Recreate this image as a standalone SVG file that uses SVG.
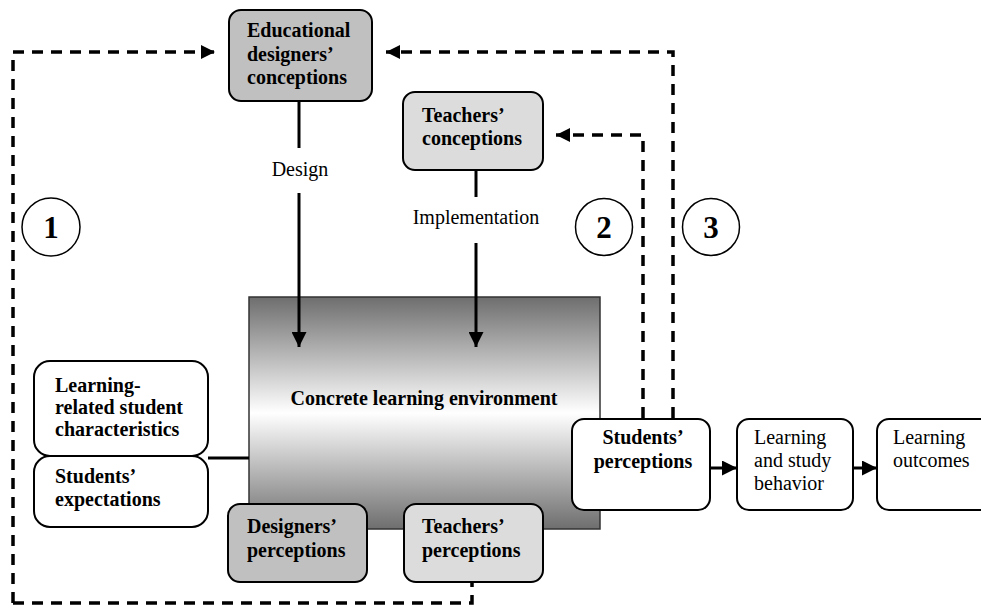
<svg xmlns="http://www.w3.org/2000/svg" width="981" height="612" viewBox="0 0 981 612">
<style>
.box{stroke:#000;stroke-width:2}
.b{font-family:"Liberation Serif","Times New Roman",serif;font-weight:bold;font-size:20px;fill:#000}
.r{font-family:"Liberation Serif","Times New Roman",serif;font-size:20px;fill:#000}
.num{font-family:"Liberation Serif","Times New Roman",serif;font-weight:bold;font-size:31px;fill:#000;text-anchor:middle}
.solid{fill:none;stroke:#000;stroke-width:3}
.dash{fill:none;stroke:#000;stroke-width:3.5;stroke-dasharray:11 8}
.circ{fill:#fff;stroke:#000;stroke-width:1.5}
</style>
<defs>
<marker id="ah" viewBox="0 0 10 10" refX="10" refY="5" markerWidth="5" markerHeight="5" markerUnits="strokeWidth" orient="auto">
<path d="M0,0 L10,5 L0,10 z" fill="#000"/>
</marker>
<marker id="ahd" viewBox="0 0 10 10" refX="10" refY="5" markerWidth="4" markerHeight="4" markerUnits="strokeWidth" orient="auto">
<path d="M0,0 L10,5 L0,10 z" fill="#000"/>
</marker>
<linearGradient id="g" x1="0" y1="0" x2="0" y2="1">
<stop offset="0" stop-color="#6e6e6e"/>
<stop offset="0.5" stop-color="#ffffff"/>
<stop offset="1" stop-color="#6e6e6e"/>
</linearGradient>
</defs>

<g id="concrete">
<rect x="249" y="297" width="351" height="232" fill="url(#g)" stroke="#333" stroke-width="1.5"/>
<text class="b" x="424" y="405" text-anchor="middle">Concrete learning environment</text>
</g>

<g id="connectors">
<path class="dash" d="M13,603 L13,52 L215,52" marker-end="url(#ahd)"/>
<path class="dash" d="M13,603 L472,603 L472,582"/>
<path class="dash" d="M673,418 L673,52 L386,52" marker-end="url(#ahd)"/>
<path class="dash" d="M643,418 L643,135 L556,135" marker-end="url(#ahd)"/>
<path class="solid" d="M299,101 L299,148"/>
<path class="solid" d="M299,193 L299,347" marker-end="url(#ah)"/>
<path class="solid" d="M476,170 L476,197"/>
<path class="solid" d="M476,243 L476,347" marker-end="url(#ah)"/>
<path class="solid" d="M208,458 L249,458"/>
<path class="solid" d="M710,468 L737,468" marker-end="url(#ah)"/>
<path class="solid" d="M853,468 L877,468" marker-end="url(#ah)"/>
</g>

<g id="design-label"><text class="r" x="300" y="176" text-anchor="middle">Design</text></g>
<g id="implementation-label"><text class="r" x="476" y="224" text-anchor="middle">Implementation</text></g>

<g id="circle1"><circle class="circ" cx="51" cy="227" r="29"/><text class="num" x="51" y="238">1</text></g>
<g id="circle2"><circle class="circ" cx="604" cy="227" r="28.5"/><text class="num" x="604" y="238">2</text></g>
<g id="circle3"><circle class="circ" cx="711" cy="227" r="28.5"/><text class="num" x="711" y="238">3</text></g>

<g id="edu-designers">
<rect class="box" x="229" y="10" width="143" height="91" rx="12" fill="#c0c0c0"/>
<text class="b" x="247" y="37">Educational</text>
<text class="b" x="247" y="61">designers’</text>
<text class="b" x="247" y="84">conceptions</text>
</g>

<g id="teachers-conceptions">
<rect class="box" x="403" y="92" width="140" height="78" rx="12" fill="#dcdcdc"/>
<text class="b" x="422" y="122">Teachers’</text>
<text class="b" x="422" y="145">conceptions</text>
</g>

<g id="student-characteristics">
<rect class="box" x="34" y="361" width="174" height="95" rx="16" fill="#fff"/>
<text class="b" x="55" y="392">Learning-</text>
<text class="b" x="55" y="414">related student</text>
<text class="b" x="55" y="436">characteristics</text>
</g>
<g id="students-expectations">
<rect class="box" x="34" y="456" width="174" height="71" rx="16" fill="#fff"/>
<text class="b" x="55" y="483">Students’</text>
<text class="b" x="55" y="506">expectations</text>
</g>

<g id="designers-perceptions">
<rect class="box" x="228" y="504" width="139" height="78" rx="12" fill="#c0c0c0"/>
<text class="b" x="247" y="533">Designers’</text>
<text class="b" x="247" y="557">perceptions</text>
</g>

<g id="teachers-perceptions">
<rect class="box" x="404" y="504" width="139" height="78" rx="12" fill="#dcdcdc"/>
<text class="b" x="422" y="533">Teachers’</text>
<text class="b" x="422" y="557">perceptions</text>
</g>

<g id="students-perceptions">
<rect class="box" x="572" y="419" width="138" height="91" rx="12" fill="#fff"/>
<text class="b" x="643" y="444" text-anchor="middle">Students’</text>
<text class="b" x="643" y="468" text-anchor="middle">perceptions</text>
</g>

<g id="learning-behavior">
<rect class="box" x="737" y="419" width="116" height="91" rx="12" fill="#fff"/>
<text class="r" x="754" y="444">Learning</text>
<text class="r" x="754" y="467">and study</text>
<text class="r" x="754" y="490">behavior</text>
</g>

<g id="learning-outcomes">
<rect class="box" x="877" y="419" width="115" height="91" rx="12" fill="#fff"/>
<text class="r" x="893" y="444">Learning</text>
<text class="r" x="893" y="467">outcomes</text>
</g>
</svg>
